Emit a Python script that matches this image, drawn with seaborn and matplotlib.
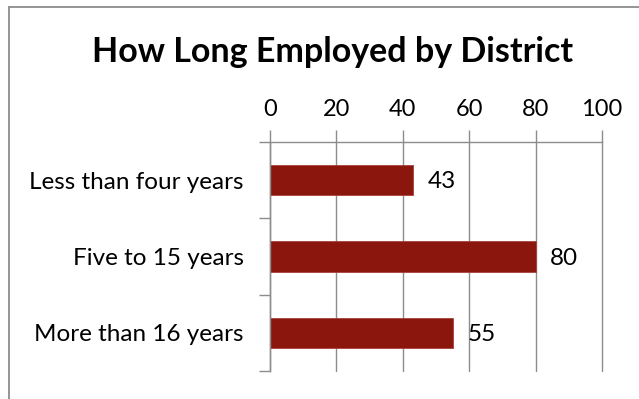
import matplotlib
matplotlib.use("Agg")
import matplotlib.pyplot as plt
from matplotlib.lines import Line2D
import seaborn as sns
import pandas as pd

categories = ["Less than four years", "Five to 15 years", "More than 16 years"]
values = [43, 80, 55]
x_ticks = [0, 20, 40, 60, 80, 100]

df = pd.DataFrame({"category": categories, "value": values})

sns.set_theme(style="white")
plt.rcParams["font.family"] = ["Lato", "DejaVu Sans"]

grey = "#8c8c8c"
bar_color = "#8b160e"

fig = plt.figure(figsize=(6.39, 3.99), dpi=100)
ax = fig.add_axes([270 / 639, 1 - 371 / 399, 332 / 639, 229 / 399])

sns.barplot(data=df, x="value", y="category", orient="h", color=bar_color,
            width=0.4, saturation=1, edgecolor="#a8423a", linewidth=0.6, ax=ax)

ax.set_xlim(0, 100)
ax.set_ylim(2.5, -0.5)
ax.set_xticks(x_ticks)
ax.xaxis.tick_top()
ax.tick_params(axis="x", which="both", top=True, bottom=False, length=9,
               width=1, color=grey, labelsize=17, pad=7, labelcolor="black")
ax.set_xlabel("")
ax.set_ylabel("")

# category labels at bar centres, tick marks at the category boundaries
ax.set_yticks(range(len(categories)))
ax.set_yticklabels(categories)
ax.tick_params(axis="y", which="major", left=False, length=0, labelsize=17.5,
               pad=19, labelcolor="black")
ax.set_yticks([-0.5, 0.5, 1.5, 2.5], minor=True)
ax.tick_params(axis="y", which="minor", left=True, length=8, width=1, color=grey)

ax.grid(axis="x", color=grey, linewidth=1)
for gl in ax.get_xgridlines():
    gl.set_clip_on(False)
ax.set_axisbelow(True)
for side in ["right", "bottom"]:
    ax.spines[side].set_visible(False)
for side in ["top", "left"]:
    ax.spines[side].set_color(grey)
    ax.spines[side].set_linewidth(1)

for i, v in enumerate(values):
    ax.text(v + 4.4, i + 0.02, f"{v}", va="center", ha="left", fontsize=17.5,
            color="black")

fig.text(333 / 639, 1 - 62 / 399, "How Long Employed by District", ha="center",
         va="baseline", fontsize=24.5, fontweight="bold", color="black")

# chart frame
fig.add_artist(Line2D([8.5 / 639, 8.5 / 639], [0, 1 - 6.5 / 399],
                      transform=fig.transFigure, color=grey, linewidth=1.3))
fig.add_artist(Line2D([8.5 / 639, 1], [1 - 6.5 / 399, 1 - 6.5 / 399],
                      transform=fig.transFigure, color=grey, linewidth=1.3))

fig.savefig("out.png", dpi=100)
